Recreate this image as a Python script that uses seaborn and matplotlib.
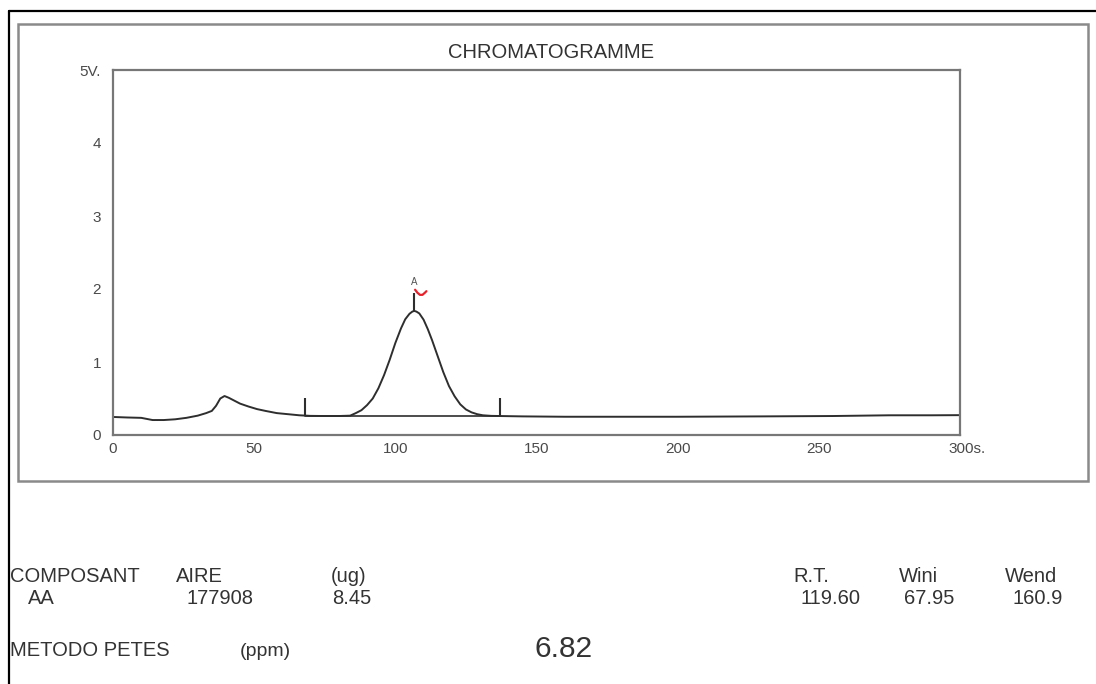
'''Chromatogram report page'''
import matplotlib
matplotlib.use('Agg')
import matplotlib.pyplot as plt
import matplotlib.transforms as mtransforms
from matplotlib.lines import Line2D
from matplotlib.patches import Rectangle
import pandas as pd
import seaborn as sns

# trace (time in s, signal in V)
time_s = [0, 5, 10, 14, 18, 22, 26, 30, 33, 35, 36.5, 38, 39.5, 41, 43, 45,
          48, 51, 54, 58, 62, 66, 70, 75, 80, 84, 86, 88, 90, 92, 94, 96,
          98, 100, 102, 103.5, 105, 106, 106.7, 107.5, 108.5, 110, 111.5,
          113, 115, 117, 119, 121, 123, 125, 127, 129, 131, 134, 137, 145,
          160, 180, 200, 230, 255, 265, 275, 290, 300]
signal_v = [0.247, 0.24, 0.235, 0.205, 0.205, 0.215, 0.235, 0.265, 0.30,
            0.33, 0.40, 0.50, 0.534, 0.51, 0.47, 0.43, 0.39, 0.355, 0.33,
            0.30, 0.285, 0.27, 0.262, 0.26, 0.26, 0.265, 0.30, 0.34, 0.41,
            0.50, 0.64, 0.82, 1.03, 1.26, 1.46, 1.585, 1.66, 1.69, 1.70,
            1.69, 1.665, 1.58, 1.45, 1.30, 1.08, 0.86, 0.67, 0.53, 0.42,
            0.35, 0.31, 0.285, 0.27, 0.262, 0.26, 0.255, 0.25, 0.25, 0.25,
            0.255, 0.26, 0.265, 0.27, 0.27, 0.272]

# integration window markers and baseline
marker_times = [67.95, 137.1]
marker_low = 0.26
marker_high = 0.51

# peak A
peak_time = 106.7
peak_top = 1.70
peak_tick_top = 1.95
peak_label = 'A'
peak_label_y = 2.09
squiggle_t = [107.0, 107.8, 108.7, 109.6, 110.5, 111.0]
squiggle_v = [1.99, 1.95, 1.92, 1.92, 1.95, 1.97]

x_ticks = [0, 50, 100, 150, 200, 250, 300]
x_labels = ['0', '50', '100', '150', '200', '250', '300s.']
y_ticks = [0, 1, 2, 3, 4, 5]
y_labels = ['0', '1', '2', '3', '4', '5V.']

# results table
header_row = ['COMPOSANT', 'AIRE', '(ug)', 'R.T.', 'Wini', 'Wend']
value_row = ['AA', '177908', '8.45', '119.60', '67.95', '160.9']
method_label = 'METODO PETES'
method_unit = '(ppm)'
method_value = '6.82'

sns.set_style('white')
plt.rcParams['font.family'] = ['Liberation Sans', 'DejaVu Sans']

W, H = 1096, 684
fig = plt.figure(figsize=(W / 100, H / 100), dpi=100)


def fx(px):
    return px / W


def fy(py):
    return 1 - py / H


# page frames
fig.add_artist(Line2D([fx(9), fx(1096)], [fy(11), fy(11)], color='black', lw=1.6))
fig.add_artist(Line2D([fx(9), fx(9)], [fy(11), fy(684)], color='black', lw=1.6))
fig.add_artist(Rectangle((fx(18), fy(481)), fx(1088) - fx(18), fy(24) - fy(481),
                         fill=False, edgecolor='#8a8a8a', lw=1.8))

ax = fig.add_axes([fx(113), fy(435), fx(960) - fx(113), fy(70) - fy(435)])

df = pd.DataFrame({'time': time_s, 'signal': signal_v})
sns.lineplot(data=df, x='time', y='signal', ax=ax, color='#2e2e2e', lw=1.4)

ax.vlines(marker_times, marker_low, marker_high, color='#2e2e2e', lw=1.5)
ax.plot(marker_times, [marker_low, marker_low], color='#2e2e2e', lw=1.2)
ax.vlines([peak_time], peak_top, peak_tick_top, color='#2e2e2e', lw=1.5)
ax.text(peak_time, peak_label_y, peak_label, ha='center', va='center',
        fontsize=7, color='#555555')
ax.plot(squiggle_t, squiggle_v, color='#e8202a', lw=1.6)

ax.set_xlim(0, 300)
ax.set_ylim(0, 5)
ax.set_xticks(x_ticks)
ax.set_xticklabels(x_labels)
ax.set_yticks(y_ticks)
ax.set_yticklabels(y_labels)
ax.set_xlabel('')
ax.set_ylabel('')
for side in ['left', 'right', 'top', 'bottom']:
    ax.spines[side].set_visible(True)
    ax.spines[side].set_color('#777777')
    ax.spines[side].set_linewidth(1.6)
ax.tick_params(axis='both', length=3.5, width=1.2, color='#555555',
               labelcolor='#4a4a4a', labelsize=11, direction='out')
ax.tick_params(axis='x', pad=1.5)
ax.tick_params(axis='y', pad=5)

# "300s." starts at the tick instead of being centred on it
last = ax.get_xticklabels()[-1]
last.set_horizontalalignment('left')
last.set_transform(last.get_transform() +
                   mtransforms.ScaledTranslation(-8 / 72, 0, fig.dpi_scale_trans))

fig.text(fx(551), fy(53), 'CHROMATOGRAMME', ha='center', va='center',
         fontsize=14.5, color='#333333')

# table rows
header_x = [10, 176, 331, 793, 899, 1005]
value_x = [28, 186, 332, 800, 904, 1012]
for label, x in zip(header_row, header_x):
    fig.text(fx(x), fy(576), label, ha='left', va='center',
             fontsize=14.5, color='#333333')
for label, x in zip(value_row, value_x):
    fig.text(fx(x), fy(598), label, ha='left', va='center',
             fontsize=14.5, color='#333333')
fig.text(fx(10), fy(650), method_label, ha='left', va='center',
         fontsize=14.5, color='#333333')
fig.text(fx(240), fy(651), method_unit, ha='left', va='center',
         fontsize=14, color='#333333')
fig.text(fx(534), fy(649), method_value, ha='left', va='center',
         fontsize=21.5, color='#333333')

fig.savefig('out.png', dpi=100)
